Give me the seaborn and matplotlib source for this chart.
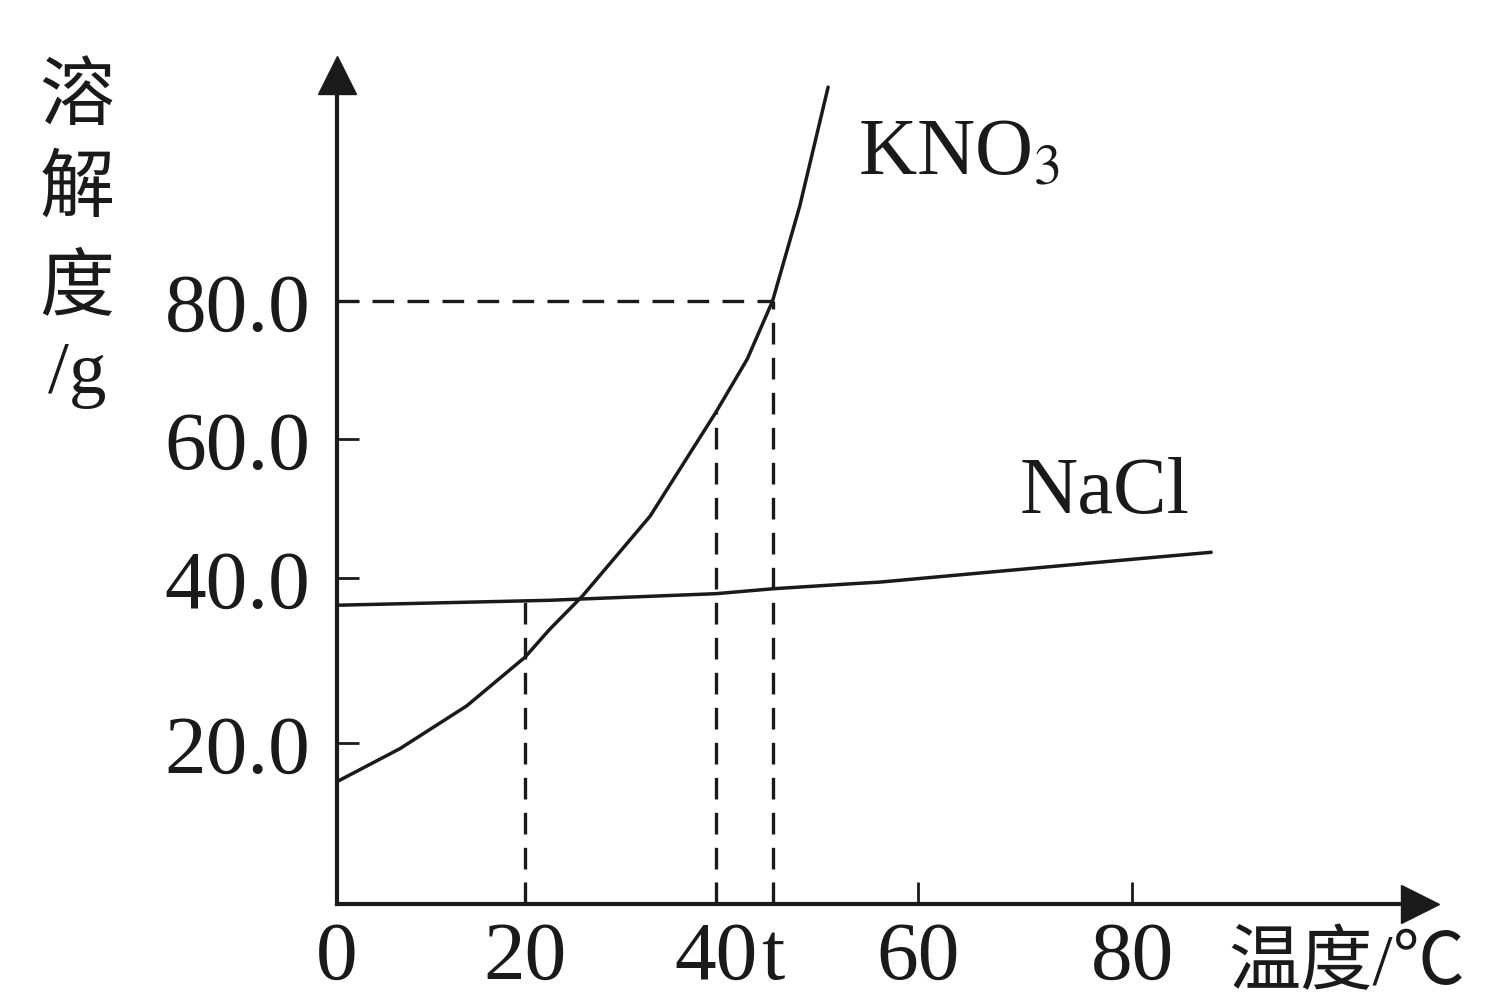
import numpy as np
import pandas as pd
import matplotlib
matplotlib.use('Agg')
import matplotlib.pyplot as plt
import seaborn as sns

sns.set_style('white')
plt.rcParams['font.family'] = ['Liberation Serif', 'Noto Sans CJK SC']
plt.rcParams['mathtext.fontset'] = 'stix'

# data (temperature in C, solubility in g)
kno3_t = [0, 6.7, 13.8, 20, 22.6, 26.0, 33.1, 40, 43.1, 45.6, 48.3, 51.1]
kno3_s = [15.2, 19.3, 24.5, 30.4, 33.8, 37.8, 48.9, 63.9, 71.6, 80, 93.8, 111.0]
nacl_t = [0, 22.6, 40, 45.7, 53.4, 56.2, 67.1, 77.9, 87.4]
nacl_s = [36.7, 37.3, 38.1, 38.7, 39.3, 39.5, 40.9, 42.4, 43.7]

t_mark = 45.6
guide_x = [20, 40, t_mark]
guide_top = [37.3, 63.9, 80]

x_ticks = [0, 20, 40, t_mark, 60, 80]
x_labels = ['0', '20', '40', 't', '60', '80']
y_ticks = [20, 40, 60, 80]
y_labels = ['20.0', '40.0', '60.0', '80.0']

# the hand drawn axes are not evenly spaced, so map them piecewise
x_knots = [-20, 0, 20, 40, 60, 80, 140]
x_pix = [-188, 0, 188, 379, 581, 795, 1437]
y_knots = [-20, 0, 20, 40, 60, 80, 140]
y_pix = [-161, 0, 161, 326, 465, 603, 1017]

fx = (lambda v: np.interp(v, x_knots, x_pix), lambda p: np.interp(p, x_pix, x_knots))
fy = (lambda v: np.interp(v, y_knots, y_pix), lambda p: np.interp(p, y_pix, y_knots))

W, H = 1497, 1003
fig = plt.figure(figsize=(W / 100, H / 100), dpi=100)
x0, y0, x1, y1 = 337, 905, 1420, 76
ax = fig.add_axes([x0 / W, (H - y0) / H, (x1 - x0) / W, (y0 - y1) / H])
ax.set_xscale('function', functions=fx)
ax.set_yscale('function', functions=fy)
ax.set_xlim(0, fx[1](x1 - x0))
ax.set_ylim(0, fy[1](y0 - y1))

ink = '#1a1a1a'
df_k = pd.DataFrame({'t': kno3_t, 's': kno3_s})
df_n = pd.DataFrame({'t': nacl_t, 's': nacl_s})
sns.lineplot(data=df_k, x='t', y='s', ax=ax, color=ink, lw=2.5, sort=False,
             estimator=None, solid_joinstyle='round')
sns.lineplot(data=df_n, x='t', y='s', ax=ax, color=ink, lw=2.5, sort=False,
             estimator=None, solid_joinstyle='round')

dash = dict(color=ink, lw=2.4, ls=(0, (6.5, 4)))
ax.plot([0, t_mark], [80, 80], **dash)
for gx, gt in zip(guide_x, guide_top):
    ax.plot([gx, gx], [0, gt], **dash)

for side in ['top', 'right']:
    ax.spines[side].set_visible(False)
for side in ['left', 'bottom']:
    ax.spines[side].set_linewidth(3)
    ax.spines[side].set_color(ink)

# arrow heads
ax.plot(1, 0, '>', color=ink, ms=27, transform=ax.get_yaxis_transform(), clip_on=False)
ax.plot(0, 1, '^', color=ink, ms=27, transform=ax.get_xaxis_transform(), clip_on=False)

ax.set_xticks(x_ticks)
ax.set_xticklabels(x_labels)
ax.set_yticks(y_ticks)
ax.set_yticklabels(y_labels)
ax.minorticks_off()
# seaborn's white style hides the tick marks, turn them back on
ax.tick_params(axis='both', which='major', bottom=True, left=True,
               direction='in', length=16, width=2, color=ink,
               labelsize=60, labelcolor=ink)
ax.tick_params(axis='x', pad=12)
ax.tick_params(axis='y', pad=19)
ax.set_xlabel('')
ax.set_ylabel('')

fig.text(858 / W, 1 - 175 / H, r'KNO$_3$', fontsize=58, color=ink, va='baseline')
fig.text(1020 / W, 1 - 513 / H, 'NaCl', fontsize=58, color=ink, va='baseline')

for ch, yc in zip(['溶', '解', '度', '/g'], [100, 192, 292, 375]):
    fig.text(77 / W, 1 - yc / H, ch, fontsize=54, color=ink, ha='center', va='center')
fig.text(1228 / W, 1 - 966 / H, '温度/℃', fontsize=52, color=ink, ha='left', va='center')

fig.savefig('out.png', dpi=100, facecolor='white')
